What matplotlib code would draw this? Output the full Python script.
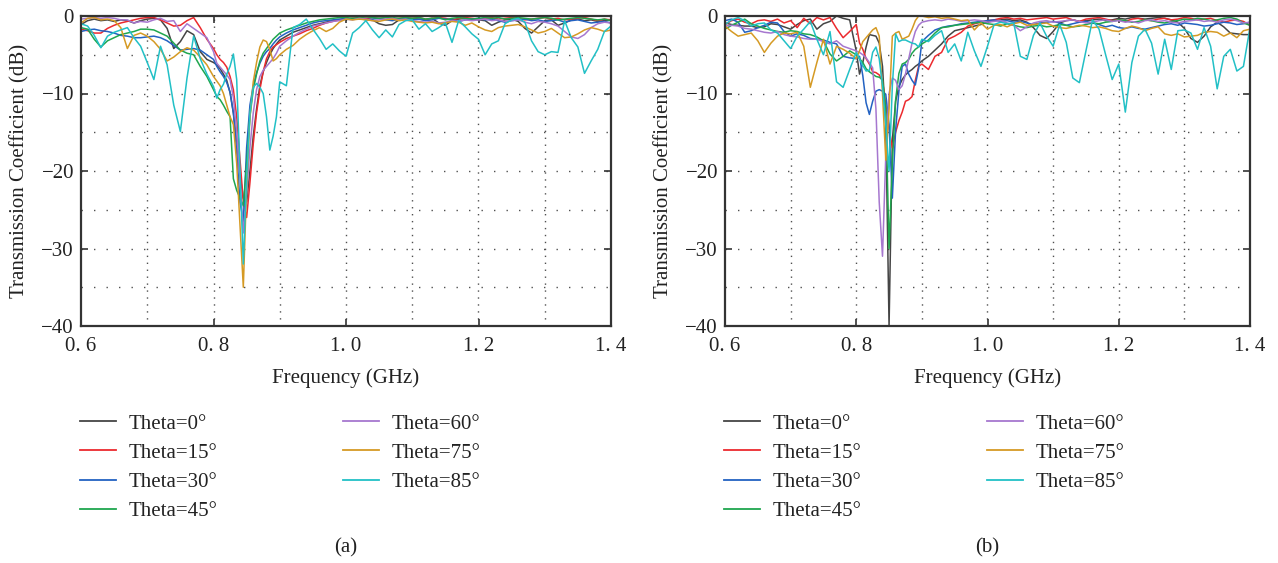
import numpy as np
import matplotlib
matplotlib.use("Agg")
import matplotlib.pyplot as plt
from matplotlib.ticker import MultipleLocator
from matplotlib.lines import Line2D

plt.rcParams['font.family'] = ['Liberation Serif', 'DejaVu Serif']

# frequency grid (GHz): 0.01 steps, 0.005 steps around the notch
freq = np.concatenate([np.arange(0.60, 0.8001, 0.01),
                       np.arange(0.805, 0.8951, 0.005),
                       np.arange(0.90, 1.4001, 0.01)])

labels = ['Theta=0°', 'Theta=15°', 'Theta=30°', 'Theta=45°',
          'Theta=60°', 'Theta=75°', 'Theta=85°']
colors = ['#454545', '#ec2a2e', '#2362c2', '#1fa64e', '#a677cf', '#d59a24', '#22c0c6']

# ---- panel (a) ----
a_t0 = ([-1.1, -0.6, -0.4, -0.6, -0.5, -0.7, -0.5, -0.6, -0.9, -0.6,
         -0.4, -0.3, -0.5, -1.6, -4.2, -3.3, -1.9, -2.4, -4.6, -5.6, -6.0] +
        [-6.3, -6.8, -7.5, -8.3, -9.9, -12.5, -16.0, -20.5, -23.5, -24.0,
         -20.0, -15.5, -12.0, -9.0, -7.2, -6.0, -5.0, -4.2, -3.6] +
        [-3.1, -2.6, -2.1, -1.8, -1.5, -1.2, -1.0, -0.8, -0.6, -0.5,
         -0.4, -0.3, -0.4, -0.3, -0.5, -1.0, -1.2, -1.1, -0.5, -0.4,
         -0.3, -0.4, -0.5, -0.3, -0.9, -1.2, -0.6, -0.4, -0.3, -0.4,
         -0.5, -0.6, -1.2, -0.8, -0.5, -0.4, -0.7, -1.6, -2.2, -1.4,
         -0.6, -0.5, -1.2, -0.9, -0.5, -0.4, -0.6, -0.5, -0.7, -0.6,
         -0.5])
a_t15 = ([-1.7, -1.9, -2.2, -2.2, -1.6, -1.2, -0.9, -0.7, -0.5, -0.3,
          -0.2, -0.2, -0.5, -0.9, -1.3, -1.2, -0.6, -0.2, -1.5, -3.0, -4.2] +
         [-5.0, -5.6, -6.0, -6.6, -7.8, -9.5, -13.0, -18.5, -24.0, -26.0,
          -21.5, -16.5, -12.5, -9.5, -7.2, -5.5, -4.6, -4.0, -3.7] +
         [-3.4, -2.9, -2.6, -2.3, -1.9, -1.6, -1.2, -0.9, -0.7, -0.5,
          -0.4, -0.3, -0.2, -0.3, -0.2, -0.3, -0.2, -0.4, -0.3, -0.2,
          -0.3, -0.2, -0.4, -0.3, -0.2, -0.3, -0.5, -0.3, -0.2, -0.3,
          -0.4, -0.3, -0.2, -0.4, -0.3, -0.2, -0.3, -0.5, -0.4, -0.3,
          -0.2, -0.4, -0.3, -0.5, -0.4, -0.3, -0.2, -0.4, -0.6, -0.4,
          -0.5])
a_t30 = ([-2.0, -1.8, -1.7, -1.9, -2.0, -2.2, -2.5, -2.6, -2.8, -2.8,
          -2.7, -2.6, -2.8, -3.2, -3.8, -4.4, -4.3, -4.2, -4.4, -5.0, -5.6] +
         [-6.5, -7.2, -7.8, -8.6, -9.8, -12.5, -17.5, -24.0, -26.5, -17.0,
          -11.5, -9.0, -7.3, -6.1, -5.2, -4.6, -4.2, -3.6, -3.1] +
         [-2.7, -2.2, -1.8, -1.5, -1.2, -0.9, -0.7, -0.6, -0.5, -0.4,
          -0.3, -0.4, -0.3, -0.5, -0.4, -0.3, -0.5, -0.6, -0.4, -0.3,
          -0.5, -0.4, -0.6, -0.5, -0.3, -0.4, -0.5, -0.7, -0.5, -0.4,
          -0.3, -0.5, -0.4, -0.6, -0.8, -0.6, -0.5, -0.4, -0.6, -0.5,
          -0.7, -0.6, -0.5, -0.8, -0.6, -0.5, -0.7, -0.9, -0.8, -0.7,
          -0.9])
a_t45 = ([-1.5, -1.7, -3.0, -4.0, -3.2, -2.8, -2.4, -2.2, -2.0, -1.7,
          -1.7, -1.8, -2.2, -2.6, -3.5, -4.4, -4.8, -5.0, -6.5, -7.8, -9.5] +
         [-10.4, -10.8, -11.5, -12.3, -13.0, -21.0, -22.5, -23.5, -24.5, -19.0,
          -13.0, -9.5, -7.5, -5.8, -4.8, -4.2, -3.6, -3.0, -2.6] +
         [-2.2, -1.8, -1.5, -1.2, -0.9, -0.7, -0.5, -0.4, -0.3, -0.2,
          -0.2, -0.3, -0.2, -0.1, -0.2, -0.3, -0.2, -0.2, -0.3, -0.2,
          -0.3, -0.2, -0.4, -0.3, -0.2, -0.5, -0.3, -0.2, -0.3, -0.4,
          -0.3, -0.2, -0.3, -0.2, -0.4, -0.3, -0.2, -0.3, -0.4, -0.3,
          -0.2, -0.3, -0.5, -0.4, -0.3, -0.2, -0.3, -0.4, -0.5, -0.4,
          -0.6])
a_t60 = ([-0.4, -0.3, -0.2, -0.3, -0.2, -0.3, -0.5, -0.5, -0.9, -0.7,
          -0.8, -0.5, -0.3, -0.7, -0.6, -2.0, -1.0, -1.6, -2.2, -2.8, -4.6] +
         [-6.1, -6.6, -7.1, -7.6, -8.2, -10.5, -15.0, -21.0, -28.0, -23.0,
          -17.0, -12.5, -9.5, -7.8, -7.0, -6.5, -6.0, -5.5, -4.8] +
         [-3.9, -3.2, -2.6, -2.1, -1.7, -1.3, -1.1, -0.9, -0.7, -0.6,
          -0.4, -0.5, -0.3, -0.4, -0.6, -0.5, -0.4, -0.3, -0.5, -0.4,
          -0.6, -0.7, -0.8, -0.7, -0.9, -0.8, -0.6, -0.7, -0.5, -0.6,
          -0.5, -0.4, -0.6, -0.5, -0.7, -0.6, -0.5, -0.8, -1.0, -0.7,
          -0.8, -1.0, -1.3, -2.0, -2.7, -2.9, -2.4, -1.5, -1.0, -0.8,
          -0.9])
a_t75 = ([-0.9, -0.3, -0.2, -0.5, -0.4, -0.6, -1.5, -4.2, -2.5, -2.2,
          -2.6, -3.3, -4.3, -5.8, -5.3, -4.6, -4.1, -4.4, -5.3, -6.3, -7.8] +
         [-8.4, -9.0, -10.0, -11.5, -13.0, -14.0, -19.0, -27.0, -35.0, -22.0,
          -13.0, -8.5, -6.0, -4.0, -3.1, -3.3, -4.3, -5.8, -5.5] +
         [-5.0, -4.3, -3.8, -3.0, -2.4, -1.9, -1.5, -2.0, -1.6, -0.8,
          -0.4, -0.5, -0.4, -0.5, -0.6, -0.7, -0.5, -0.4, -0.6, -0.5,
          -0.7, -0.8, -0.9, -0.8, -1.0, -0.9, -0.7, -0.8, -1.2, -0.9,
          -1.4, -1.8, -2.0, -1.5, -1.3, -1.2, -1.1, -1.4, -1.8, -2.2,
          -2.0, -1.6, -2.2, -2.8, -2.7, -2.3, -1.8, -1.5, -1.7, -2.0,
          -1.8])
a_t85 = ([-1.0, -1.3, -2.5, -4.1, -2.6, -2.1, -1.8, -1.5, -2.8, -3.9,
          -6.0, -8.2, -3.9, -6.3, -11.5, -14.9, -8.0, -2.6, -5.5, -7.5, -9.1] +
         [-10.6, -9.5, -8.8, -7.5, -6.5, -4.9, -8.2, -20.0, -32.0, -21.0,
          -12.5, -9.2, -8.7, -9.2, -10.0, -13.0, -17.3, -15.5, -13.0] +
         [-8.5, -9.0, -1.5, -1.1, -0.4, -1.7, -2.9, -4.3, -3.6, -4.5,
          -5.2, -2.2, -1.5, -0.6, -1.8, -2.8, -1.8, -2.7, -1.1, -0.6,
          -0.5, -1.7, -1.0, -2.0, -1.5, -0.9, -3.4, -0.6, -1.4, -2.3,
          -3.0, -5.0, -3.6, -3.2, -1.0, -0.5, -0.3, -0.8, -3.2, -4.6,
          -5.0, -4.6, -4.7, -0.6, -2.8, -4.0, -7.4, -5.8, -4.3, -2.0,
          -1.3])

# ---- panel (b) ----
b_t0 = ([-0.9, -1.1, -1.2, -1.3, -1.3, -1.5, -1.4, -1.0, -1.1, -1.4,
         -1.7, -1.1, -0.6, -0.4, -1.7, -1.0, -0.7, 0.0, -0.3, -0.5, -4.5] +
        [-7.5, -6.0, -4.0, -2.4, -2.5, -2.6, -3.5, -6.5, -14.0, -40.0,
         -16.0, -11.0, -9.1, -8.2, -7.6, -7.2, -6.9, -6.5, -6.2] +
        [-5.8, -5.2, -4.4, -3.6, -2.6, -1.9, -1.7, -1.5, -1.3, -1.1,
         -0.8, -0.6, -0.5, -0.4, -0.6, -0.5, -0.8, -1.5, -2.5, -2.9,
         -2.0, -0.9, -0.6, -0.5, -0.7, -0.6, -0.5, -0.4, -0.6, -0.5,
         -0.3, -0.4, -0.2, -0.3, -0.4, -0.3, -0.2, -0.3, -0.5, -0.8,
         -1.6, -2.9, -3.4, -2.6, -1.4, -0.8, -1.4, -2.2, -2.3, -2.4,
         -2.4])
b_t15 = ([-1.1, -0.6, -0.4, -0.8, -1.0, -0.6, -0.5, -0.7, -0.4, -0.9,
          -0.6, -1.5, -0.3, -1.0, -0.2, -0.5, -0.2, -1.6, -2.8, -2.0, -1.1] +
         [-3.5, -4.3, -5.5, -6.2, -7.2, -7.3, -7.6, -8.4, -11.5, -14.5,
          -17.0, -15.0, -13.5, -12.4, -11.0, -10.8, -10.4, -8.3, -6.5] +
         [-6.2, -6.9, -5.2, -4.7, -3.0, -2.6, -2.1, -1.3, -1.0, -0.8,
          -0.6, -0.5, -0.3, -0.2, -0.4, -0.3, -0.5, -0.4, -0.3, -0.2,
          -0.4, -0.3, -0.2, -0.5, -0.7, -0.4, -0.3, -0.2, -0.4, -0.6,
          -0.5, -0.7, -0.4, -0.3, -0.5, -0.6, -0.4, -0.3, -0.5, -0.4,
          -0.2, -0.3, -0.5, -0.4, -0.3, -0.6, -0.8, -0.6, -0.5, -0.7,
          -1.2])
b_t30 = ([-0.6, -0.4, -0.8, -2.1, -1.9, -1.5, -1.2, -0.8, -0.9, -2.0,
          -2.6, -2.3, -2.5, -2.9, -3.0, -3.1, -3.4, -3.6, -5.2, -5.4, -5.5] +
         [-5.2, -7.7, -11.2, -12.7, -11.0, -9.7, -9.5, -9.7, -10.1, -14.0,
          -23.5, -14.7, -9.7, -6.5, -6.2, -7.5, -8.3, -8.9, -6.8] +
         [-3.3, -2.5, -1.8, -1.5, -1.3, -1.2, -1.0, -0.9, -0.8, -0.7,
          -0.6, -0.5, -0.7, -0.6, -0.8, -0.7, -0.9, -1.1, -0.9, -0.8,
          -0.7, -0.9, -1.2, -1.0, -0.8, -0.7, -0.9, -1.1, -1.4, -1.2,
          -1.5, -1.6, -1.4, -1.6, -1.7, -1.5, -1.3, -1.1, -1.0, -1.2,
          -0.9, -1.0, -1.1, -1.3, -1.2, -1.0, -0.8, -0.9, -1.1, -1.0,
          -0.8])
b_t45 = ([-1.7, -1.2, -0.8, -0.4, -1.0, -1.3, -1.6, -1.8, -2.0, -2.1,
          -1.9, -2.0, -2.3, -2.4, -2.7, -3.2, -4.9, -5.8, -5.2, -4.5, -5.0] +
         [-5.5, -6.0, -6.8, -7.2, -7.5, -7.8, -7.9, -8.2, -12.0, -30.0,
          -19.0, -10.8, -7.4, -6.2, -6.0, -5.6, -4.8, -4.3, -4.0] +
         [-3.6, -3.1, -2.2, -1.5, -1.4, -1.2, -1.1, -1.0, -0.9, -0.8,
          -1.0, -1.1, -1.3, -1.0, -1.2, -1.4, -1.5, -1.3, -1.2, -1.4,
          -1.3, -1.1, -1.2, -1.4, -1.3, -1.1, -0.9, -1.0, -0.8, -0.7,
          -0.5, -0.6, -0.8, -0.7, -0.5, -0.6, -0.8, -0.9, -0.7, -0.6,
          -0.4, -0.5, -0.3, -0.4, -0.6, -0.5, -0.3, -0.2, -0.4, -0.9,
          -1.2])
b_t60 = ([-1.3, -1.2, -1.3, -1.6, -1.7, -1.9, -2.1, -2.2, -2.0, -2.4,
          -2.6, -2.7, -2.9, -3.0, -3.0, -3.3, -3.6, -3.2, -3.9, -4.2, -4.5] +
         [-4.7, -5.0, -5.4, -6.0, -6.7, -12.0, -24.0, -31.0, -18.0, -10.0,
          -8.0, -8.3, -9.5, -9.0, -7.5, -5.5, -3.5, -2.0, -1.2] +
         [-0.8, -0.6, -0.5, -0.6, -0.4, -0.5, -0.7, -0.6, -0.5, -0.6,
          -0.8, -0.7, -0.6, -0.9, -1.2, -1.9, -1.4, -0.9, -0.7, -0.6,
          -0.8, -0.7, -0.6, -0.5, -0.7, -0.9, -0.8, -0.6, -0.5, -0.7,
          -0.6, -0.8, -0.7, -0.9, -0.6, -0.5, -0.7, -0.6, -0.8, -0.9,
          -0.7, -0.6, -0.5, -0.7, -0.6, -0.8, -0.5, -0.4, -0.6, -0.9,
          -0.8])
b_t75 = ([-1.3, -2.0, -2.6, -2.4, -2.2, -3.2, -4.7, -3.5, -2.6, -2.2,
          -2.3, -2.1, -3.9, -9.2, -6.0, -3.0, -6.2, -3.9, -4.3, -4.8, -5.5] +
         [-4.5, -3.3, -2.8, -2.3, -1.8, -1.5, -2.6, -10.0, -18.6, -12.0,
          -2.6, -2.2, -2.0, -3.0, -2.8, -2.6, -1.7, -0.6, 0.0] +
         [0.0, -0.2, -0.1, -0.3, -0.2, -0.4, -0.6, -0.5, -1.8, -0.9,
          -1.7, -1.2, -1.1, -1.4, -1.0, -0.8, -1.2, -1.1, -1.0, -0.9,
          -1.3, -1.5, -1.6, -1.4, -1.2, -1.3, -1.5, -1.4, -1.6, -1.9,
          -2.0, -1.6, -1.3, -1.5, -1.9, -1.6, -1.4, -2.3, -2.5, -2.3,
          -2.7, -2.6, -2.5, -2.1, -2.0, -2.1, -2.6, -2.2, -2.8, -1.9,
          -1.7])
b_t85 = ([-1.1, -0.5, -0.2, -0.6, -1.3, -1.0, -0.9, -1.8, -2.2, -3.2,
          -4.2, -2.6, -1.7, -0.7, -3.0, -5.0, -2.0, -8.5, -9.2, -6.9, -4.7] +
         [-5.5, -6.4, -7.1, -7.0, -4.7, -4.0, -5.5, -9.0, -14.0, -20.0,
          -9.0, -2.3, -3.3, -3.1, -3.1, -3.3, -3.5, -3.6, -4.0] +
         [-3.0, -3.3, -2.5, -1.9, -4.7, -3.6, -5.8, -2.1, -4.5, -6.5,
          -3.9, -1.1, -0.8, -1.0, -0.9, -5.2, -5.6, -2.5, -0.9, -2.6,
          -3.9, -1.1, -3.4, -8.0, -8.6, -4.5, -0.5, -1.7, -5.0, -8.2,
          -6.2, -12.4, -6.0, -2.6, -1.7, -3.5, -7.5, -3.0, -6.9, -1.9,
          -1.8, -2.2, -4.3, -1.5, -3.9, -9.4, -5.2, -4.3, -7.1, -6.5,
          -1.5])

panel_a = [a_t0, a_t15, a_t30, a_t45, a_t60, a_t75, a_t85]
panel_b = [b_t0, b_t15, b_t30, b_t45, b_t60, b_t75, b_t85]

W, H = 1278, 563
fig = plt.figure(figsize=(W / 100, H / 100), dpi=100)


def draw_panel(rect, series, tag, lx, ylab_x):
    ax = fig.add_axes(rect)
    for vals, c, lab in zip(series, colors, labels):
        ax.plot(freq, vals, color=c, lw=1.1, label=lab)
    ax.set_xlim(0.6, 1.4)
    ax.set_ylim(-40, 0)
    ax.set_xticks([0.6, 0.8, 1.0, 1.2, 1.4])
    ax.set_xticklabels(['0. 6', '0. 8', '1. 0', '1. 2', '1. 4'])
    ax.set_yticks([0, -10, -20, -30, -40])
    ax.set_yticklabels(['0', '\u221210', '\u221220', '\u221230', '\u221240'])
    ax.xaxis.set_minor_locator(MultipleLocator(0.1))
    ax.yaxis.set_minor_locator(MultipleLocator(5))
    ax.tick_params(which='both', direction='in', top=True, right=True,
                   labelsize=15, colors='#333333', labelcolor='#222222')
    ax.tick_params(which='major', length=5, width=1.2)
    ax.tick_params(axis='x', which='major', pad=8)
    ax.tick_params(axis='y', which='major', pad=5)
    ax.tick_params(which='minor', length=0)
    # dotted grid at every 0.1 GHz and 5 dB
    for xv in np.arange(0.7, 1.35, 0.1):
        ax.axvline(xv, color='#505050', lw=1.0, ls=(0, (1, 4)), zorder=0)
    for yv in np.arange(-35, -1, 5):
        ax.axhline(yv, color='#505050', lw=1.0, ls=(0, (1, 8)), zorder=0)
    for s in ax.spines.values():
        s.set_linewidth(1.6)
        s.set_color('#333333')
    ax.set_xlabel('Frequency (GHz)', fontsize=15, color='#222222')
    ax.xaxis.set_label_coords(0.5, -0.135)
    ax.set_ylabel('Transmission Coefficient (dB)', fontsize=15, color='#222222')
    ax.yaxis.set_label_coords(ylab_x, 0.5)

    hs = [Line2D([], [], color=c, lw=1.3) for c in colors]
    kw = dict(loc='upper left', frameon=False, fontsize=15, borderpad=0,
              borderaxespad=0, handlelength=1.75, handletextpad=0.6,
              labelspacing=0.46, labelcolor='#222222')
    fig.legend(hs[:4], labels[:4], bbox_to_anchor=(lx / W, 1 - 414 / H), **kw)
    fig.legend(hs[4:], labels[4:], bbox_to_anchor=((lx + 263) / W, 1 - 414 / H), **kw)
    fig.text((rect[0] + rect[2] / 2), 1 - 548 / H, tag, ha='center', va='center',
             fontsize=15, color='#222222')
    return ax


draw_panel([81 / W, 1 - 326 / H, 530 / W, 310 / H], panel_a, '(a)', 80, -0.097)
draw_panel([725 / W, 1 - 326 / H, 525 / W, 310 / H], panel_b, '(b)', 724, -0.099)

fig.savefig('out.png', dpi=100)
